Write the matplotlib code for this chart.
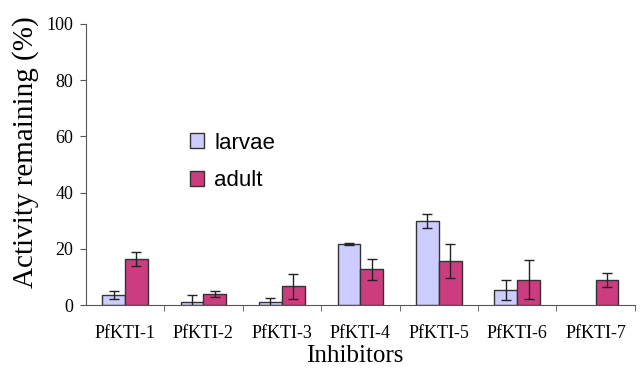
import numpy as np
import matplotlib.pyplot as plt
from matplotlib.ticker import FixedLocator, NullFormatter

# Remaining enzyme activity after incubation with each inhibitor
inhibitors = ["PfKTI-1", "PfKTI-2", "PfKTI-3", "PfKTI-4", "PfKTI-5", "PfKTI-6", "PfKTI-7"]
larvae = [3.6, 1.3, 1.0, 21.7, 29.8, 5.4, np.nan]
larvae_err = [1.4, 2.3, 1.7, 0.3, 2.5, 3.4, np.nan]
adult = [16.5, 4.0, 6.7, 12.8, 15.6, 9.1, 9.0]
adult_err = [2.5, 1.0, 4.4, 3.7, 6.1, 7.0, 2.4]

x = np.arange(len(inhibitors))
w = 0.29
serif = "Liberation Serif"

fig = plt.figure(figsize=(6.4, 3.69), dpi=100)
ax = fig.add_axes([0.134, 0.173, 0.858, 0.762])

err_kw = dict(ecolor="#222222", elinewidth=1.0, capsize=3.5, capthick=1.0)
ax.bar(x - w / 2, larvae, w, yerr=larvae_err, color="#CCCCFF",
       edgecolor="#333333", linewidth=1.0, label="larvae", error_kw=err_kw)
ax.bar(x + w / 2, adult, w, yerr=adult_err, color="#CC3D80",
       edgecolor="#333333", linewidth=1.0, label="adult", error_kw=err_kw)

ax.set_xlim(-0.5, len(inhibitors) - 0.5)
ax.set_ylim(0, 100)
ax.set_yticks([0, 20, 40, 60, 80, 100])

# category labels centred, tick marks between groups
ax.set_xticks(x)
ax.set_xticklabels(inhibitors, family=serif, fontsize=13)
ax.tick_params(axis="x", which="major", length=0, pad=14)
ax.xaxis.set_minor_locator(FixedLocator(np.arange(0.5, len(inhibitors), 1.0)))
ax.xaxis.set_minor_formatter(NullFormatter())
ax.tick_params(axis="x", which="minor", length=4, color="#555555")
ax.tick_params(axis="y", length=4, color="#555555", pad=5)
for lab in ax.get_yticklabels():
    lab.set_family(serif)
    lab.set_fontsize(13)

for s in ["top", "right"]:
    ax.spines[s].set_visible(False)
for s in ["left", "bottom"]:
    ax.spines[s].set_color("#555555")

ax.set_ylabel("Activity remaining (%)", family=serif, fontsize=21)
ax.yaxis.set_label_coords(-0.085, 0.545)
ax.set_xlabel("Inhibitors", family=serif, fontsize=18)
ax.xaxis.set_label_coords(0.49, -0.14)

ax.legend(loc="upper left", bbox_to_anchor=(0.153, 0.685), frameon=False,
          prop={"family": "Liberation Sans", "size": 16},
          handlelength=0.65, handleheight=0.65, labelspacing=0.75, handletextpad=0.45)

fig.savefig("out.png", dpi=100)
